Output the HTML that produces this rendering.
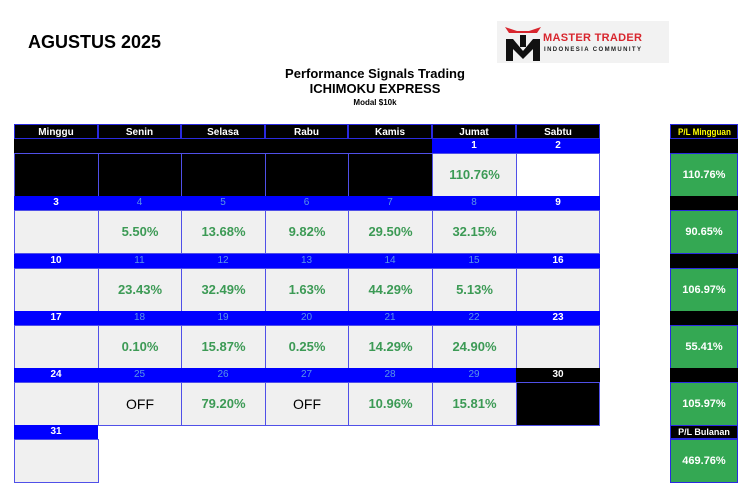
<!DOCTYPE html>
<html><head><meta charset="utf-8"><style>
*{margin:0;padding:0;box-sizing:border-box}
body{width:750px;height:494px;background:#fff;position:relative;overflow:hidden;font-family:"Liberation Sans",Arial,sans-serif}
.a{position:absolute}
.h{background:#000;color:#fff;font-size:10px;font-weight:bold;text-align:center;line-height:15px;height:15px;border:1px solid #2a2ae0}
.d{background:#0000ff;color:#fff;font-size:10px;font-weight:bold;text-align:center;line-height:14px;height:14px}
.d.w{color:#5a95e6;font-weight:normal}
.k{background:#000;height:14px}
.c{background:#f0f0f0;border:1px solid #5050e8;height:44px;text-align:center;line-height:42px;font-size:13px;font-weight:bold;color:#3c9a55}
.c.o{color:#000;font-weight:normal;font-size:14px}
.c.b{background:#000}
.g{background:#34a853;border:1px solid #2a2ae0;color:#fff;font-size:11px;font-weight:bold;text-align:center;line-height:42px;height:44px}
</style></head><body>
<div class="a" style="left:28px;top:32px;font-size:18px;font-weight:bold">AGUSTUS 2025</div>
<div class="a" style="left:497px;top:21px;width:172px;height:42px;background:#f2f2f2">
<svg width="40" height="42" style="position:absolute;left:6px;top:2px"><path d="M2 4 L14 8 L26 8 L38 4 L34 10 L6 10Z" fill="#d8262e"/><path d="M3 16 L10 16 L20 28 L30 16 L37 16 L37 38 L30 38 L30 26 L20 36 L10 26 L10 38 L3 38Z" fill="#111"/><rect x="17" y="12" width="6" height="12" fill="#111"/></svg>
<div class="a" style="left:46px;top:11px;font-size:11px;font-weight:bold;color:#d8262e;letter-spacing:0.3px">MASTER TRADER</div>
<div class="a" style="left:47px;top:26px;font-size:6px;font-weight:bold;color:#222;letter-spacing:1.4px">INDONESIA COMMUNITY</div>
</div>
<div class="a" style="left:0;width:750px;top:66px;text-align:center;font-size:13px;font-weight:bold;line-height:15px">Performance Signals Trading<br>ICHIMOKU EXPRESS</div>
<div class="a" style="left:0;width:750px;top:98px;text-align:center;font-size:8px;font-weight:bold">Modal $10k</div>

<div class="a h" style="left:14px;top:124px;width:84px">Minggu</div>
<div class="a h" style="left:98px;top:124px;width:83px">Senin</div>
<div class="a h" style="left:181px;top:124px;width:84px">Selasa</div>
<div class="a h" style="left:265px;top:124px;width:83px">Rabu</div>
<div class="a h" style="left:348px;top:124px;width:84px">Kamis</div>
<div class="a h" style="left:432px;top:124px;width:84px">Jumat</div>
<div class="a h" style="left:516px;top:124px;width:84px">Sabtu</div>

<div class="a k" style="left:14px;top:139px;width:418px"></div>
<div class="a d" style="left:432px;top:139px;width:84px">1</div>
<div class="a d" style="left:516px;top:139px;width:84px">2</div>
<div class="a c b" style="left:14px;top:153px;width:85px"></div>
<div class="a c b" style="left:98px;top:153px;width:84px"></div>
<div class="a c b" style="left:181px;top:153px;width:85px"></div>
<div class="a c b" style="left:265px;top:153px;width:84px"></div>
<div class="a c b" style="left:348px;top:153px;width:85px"></div>
<div class="a c" style="left:432px;top:153px;width:85px">110.76%</div>
<div class="a c" style="left:516px;top:153px;width:84px;background:#fff"></div>

<div class="a d" style="left:14px;top:196px;width:586px"></div>
<div class="a d" style="left:14px;top:196px;width:84px">3</div>
<div class="a d w" style="left:98px;top:196px;width:83px">4</div>
<div class="a d w" style="left:181px;top:196px;width:84px">5</div>
<div class="a d w" style="left:265px;top:196px;width:83px">6</div>
<div class="a d w" style="left:348px;top:196px;width:84px">7</div>
<div class="a d w" style="left:432px;top:196px;width:84px">8</div>
<div class="a d" style="left:516px;top:196px;width:84px">9</div>
<div class="a c" style="left:14px;top:210px;width:85px"></div>
<div class="a c" style="left:98px;top:210px;width:84px">5.50%</div>
<div class="a c" style="left:181px;top:210px;width:85px">13.68%</div>
<div class="a c" style="left:265px;top:210px;width:84px">9.82%</div>
<div class="a c" style="left:348px;top:210px;width:85px">29.50%</div>
<div class="a c" style="left:432px;top:210px;width:85px">32.15%</div>
<div class="a c" style="left:516px;top:210px;width:84px"></div>

<div class="a d" style="left:14px;top:254px;width:586px"></div>
<div class="a d" style="left:14px;top:254px;width:84px">10</div>
<div class="a d w" style="left:98px;top:254px;width:83px">11</div>
<div class="a d w" style="left:181px;top:254px;width:84px">12</div>
<div class="a d w" style="left:265px;top:254px;width:83px">13</div>
<div class="a d w" style="left:348px;top:254px;width:84px">14</div>
<div class="a d w" style="left:432px;top:254px;width:84px">15</div>
<div class="a d" style="left:516px;top:254px;width:84px">16</div>
<div class="a c" style="left:14px;top:268px;width:85px"></div>
<div class="a c" style="left:98px;top:268px;width:84px">23.43%</div>
<div class="a c" style="left:181px;top:268px;width:85px">32.49%</div>
<div class="a c" style="left:265px;top:268px;width:84px">1.63%</div>
<div class="a c" style="left:348px;top:268px;width:85px">44.29%</div>
<div class="a c" style="left:432px;top:268px;width:85px">5.13%</div>
<div class="a c" style="left:516px;top:268px;width:84px"></div>

<div class="a d" style="left:14px;top:311px;width:586px"></div>
<div class="a d" style="left:14px;top:311px;width:84px">17</div>
<div class="a d w" style="left:98px;top:311px;width:83px">18</div>
<div class="a d w" style="left:181px;top:311px;width:84px">19</div>
<div class="a d w" style="left:265px;top:311px;width:83px">20</div>
<div class="a d w" style="left:348px;top:311px;width:84px">21</div>
<div class="a d w" style="left:432px;top:311px;width:84px">22</div>
<div class="a d" style="left:516px;top:311px;width:84px">23</div>
<div class="a c" style="left:14px;top:325px;width:85px"></div>
<div class="a c" style="left:98px;top:325px;width:84px">0.10%</div>
<div class="a c" style="left:181px;top:325px;width:85px">15.87%</div>
<div class="a c" style="left:265px;top:325px;width:84px">0.25%</div>
<div class="a c" style="left:348px;top:325px;width:85px">14.29%</div>
<div class="a c" style="left:432px;top:325px;width:85px">24.90%</div>
<div class="a c" style="left:516px;top:325px;width:84px"></div>

<div class="a d" style="left:14px;top:368px;width:502px"></div>
<div class="a d" style="left:14px;top:368px;width:84px">24</div>
<div class="a d w" style="left:98px;top:368px;width:83px">25</div>
<div class="a d w" style="left:181px;top:368px;width:84px">26</div>
<div class="a d w" style="left:265px;top:368px;width:83px">27</div>
<div class="a d w" style="left:348px;top:368px;width:84px">28</div>
<div class="a d w" style="left:432px;top:368px;width:84px">29</div>
<div class="a d" style="left:516px;top:368px;width:84px;background:#000">30</div>
<div class="a c" style="left:14px;top:382px;width:85px"></div>
<div class="a c o" style="left:98px;top:382px;width:84px">OFF</div>
<div class="a c" style="left:181px;top:382px;width:85px">79.20%</div>
<div class="a c o" style="left:265px;top:382px;width:84px">OFF</div>
<div class="a c" style="left:348px;top:382px;width:85px">10.96%</div>
<div class="a c" style="left:432px;top:382px;width:85px">15.81%</div>
<div class="a c b" style="left:516px;top:382px;width:84px"></div>

<div class="a d" style="left:14px;top:425px;width:84px">31</div>
<div class="a c" style="left:14px;top:439px;width:85px"></div>

<div class="a h" style="left:670px;top:124px;width:68px;color:#ffff00;font-size:9px;white-space:nowrap;overflow:hidden"><span style="display:inline-block;transform:scaleX(0.9)">P/L Mingguan</span></div>
<div class="a k" style="left:670px;top:139px;width:68px"></div>
<div class="a g" style="left:670px;top:153px;width:68px">110.76%</div>
<div class="a k" style="left:670px;top:196px;width:68px"></div>
<div class="a g" style="left:670px;top:210px;width:68px">90.65%</div>
<div class="a k" style="left:670px;top:254px;width:68px"></div>
<div class="a g" style="left:670px;top:268px;width:68px">106.97%</div>
<div class="a k" style="left:670px;top:311px;width:68px"></div>
<div class="a g" style="left:670px;top:325px;width:68px">55.41%</div>
<div class="a k" style="left:670px;top:368px;width:68px"></div>
<div class="a g" style="left:670px;top:382px;width:68px">105.97%</div>
<div class="a h" style="left:670px;top:425px;width:68px;height:14px;line-height:13px;font-size:9px">P/L Bulanan</div>
<div class="a g" style="left:670px;top:439px;width:68px">469.76%</div>
</body></html>
